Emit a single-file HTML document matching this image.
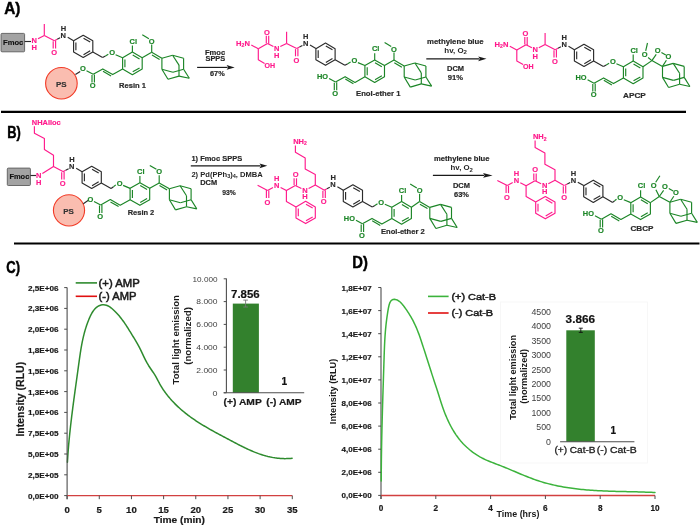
<!DOCTYPE html><html><head><meta charset="utf-8"><title>Figure</title><style>html,body{margin:0;padding:0;background:#fff;overflow:hidden}svg{display:block;will-change:transform}text{font-family:"Liberation Sans",sans-serif}</style></head><body>
<svg width="700" height="526" viewBox="0 0 700 526">
<rect width="700" height="526" fill="#fff"/>
<text x="4.2" y="13.7" font-size="16.8" fill="#000" font-weight="bold" textLength="16.2" lengthAdjust="spacingAndGlyphs" stroke="#000" stroke-width="0.45">A)</text>
<text x="7.3" y="137.7" font-size="16.8" fill="#000" font-weight="bold" textLength="13.6" lengthAdjust="spacingAndGlyphs" stroke="#000" stroke-width="0.45">B)</text>
<text x="6.2" y="272.7" font-size="16.8" fill="#000" font-weight="bold" textLength="13.8" lengthAdjust="spacingAndGlyphs" stroke="#000" stroke-width="0.45">C)</text>
<text x="352.3" y="267.6" font-size="16.8" fill="#000" font-weight="bold" textLength="15.6" lengthAdjust="spacingAndGlyphs" stroke="#000" stroke-width="0.45">D)</text>
<line x1="1" y1="111.9" x2="686" y2="111.9" stroke="#000" stroke-width="2.1"/>
<line x1="14" y1="243.5" x2="699.5" y2="243.5" stroke="#000" stroke-width="2.1"/>
<g transform="translate(-242.3,-7.8)"><line x1="286.6" y1="43.4" x2="286.6" y2="31.7" stroke="#ff1a8c" stroke-width="1.15"/><line x1="286.6" y1="43.4" x2="296.7" y2="48.5" stroke="#ff1a8c" stroke-width="1.15"/><line x1="286.6" y1="43.4" x2="280.3" y2="46.6" stroke="#ff1a8c" stroke-width="1.15"/><text x="276.6" y="50.9" font-size="7.5" fill="#ff1a8c" text-anchor="middle" font-weight="bold" stroke="#ff1a8c" stroke-width="0.15">N</text><text x="276.6" y="57.7" font-size="7.5" fill="#ff1a8c" text-anchor="middle" font-weight="bold" stroke="#ff1a8c" stroke-width="0.15">H</text><g transform="translate(0,0)"><line x1="295.5" y1="49.1" x2="295.5" y2="56.3" stroke="#ff1a8c" stroke-width="1.15"/><line x1="297.9" y1="48.6" x2="297.9" y2="56.3" stroke="#ff1a8c" stroke-width="1.15"/><text x="296.4" y="62.6" font-size="7.5" fill="#ff1a8c" text-anchor="middle" font-weight="bold" stroke="#ff1a8c" stroke-width="0.15">O</text><line x1="296.7" y1="48.5" x2="299.5" y2="47" stroke="#ff1a8c" stroke-width="1.15"/><line x1="299.5" y1="47" x2="302.4" y2="45.5" stroke="#2b2b2b" stroke-width="1.15"/><text x="305.6" y="45.5" font-size="7.5" fill="#2b2b2b" text-anchor="middle" font-weight="bold" stroke="#2b2b2b" stroke-width="0.15">N</text><text x="305.7" y="38.7" font-size="7.5" fill="#2b2b2b" text-anchor="middle" font-weight="bold" stroke="#2b2b2b" stroke-width="0.15">H</text><line x1="310" y1="45.1" x2="315.9" y2="48.5" stroke="#2b2b2b" stroke-width="1.15"/><polygon points="325.5,43.1 335.11,48.65 335.11,59.75 325.5,65.3 315.89,59.75 315.89,48.65" fill="none" stroke="#2b2b2b" stroke-width="1.15" stroke-linejoin="round"/><line x1="318.19" y1="50.35" x2="318.19" y2="58.05" stroke="#2b2b2b" stroke-width="1.15"/><line x1="325.82" y1="45.94" x2="332.49" y2="49.79" stroke="#2b2b2b" stroke-width="1.15"/><line x1="332.49" y1="58.61" x2="325.82" y2="62.46" stroke="#2b2b2b" stroke-width="1.15"/><line x1="335.11" y1="59.75" x2="344.9" y2="65.3" stroke="#2b2b2b" stroke-width="1.15"/></g><line x1="344.9" y1="65.3" x2="347.75" y2="63.7" stroke="#2b2b2b" stroke-width="1.15"/><line x1="347.75" y1="63.7" x2="350.6" y2="62.1" stroke="#1b8526" stroke-width="1.15"/><g transform="translate(0,0)"><text x="354.4" y="62.9" font-size="7.5" fill="#1b8526" text-anchor="middle" font-weight="bold" stroke="#1b8526" stroke-width="0.15">O</text><polygon points="374.7,59.9 384.49,65.55 384.49,76.85 374.7,82.5 364.91,76.85 364.91,65.55" fill="none" stroke="#1b8526" stroke-width="1.15" stroke-linejoin="round"/><line x1="367.21" y1="67.25" x2="367.21" y2="75.15" stroke="#1b8526" stroke-width="1.15"/><line x1="375.02" y1="62.74" x2="381.86" y2="66.69" stroke="#1b8526" stroke-width="1.15"/><line x1="381.86" y1="75.71" x2="375.02" y2="79.66" stroke="#1b8526" stroke-width="1.15"/><line x1="357.9" y1="62.6" x2="364.91" y2="65.55" stroke="#1b8526" stroke-width="1.15"/><line x1="374.7" y1="59.9" x2="374.7" y2="53.2" stroke="#1b8526" stroke-width="1.15"/><text x="371.9" y="51.4" font-size="7.5" fill="#1b8526" font-weight="bold" stroke="#1b8526" stroke-width="0.15">Cl</text><polyline points="364.91,76.85 355,82.4 345.1,76.7 335.5,82.1" fill="none" stroke="#1b8526" stroke-width="1.15" stroke-linejoin="round" /><line x1="345.3" y1="79.1" x2="353.4" y2="83.8" stroke="#1b8526" stroke-width="1.15"/><line x1="334.3" y1="82.7" x2="334.3" y2="90.3" stroke="#1b8526" stroke-width="1.15"/><line x1="336.7" y1="82.2" x2="336.7" y2="90.3" stroke="#1b8526" stroke-width="1.15"/><text x="335.1" y="96" font-size="7.5" fill="#1b8526" text-anchor="middle" font-weight="bold" stroke="#1b8526" stroke-width="0.15">O</text></g><line x1="384.49" y1="65.55" x2="394" y2="60.1" stroke="#1b8526" stroke-width="1.15"/><g transform="translate(0,0)"><line x1="394" y1="60.1" x2="394" y2="52.4" stroke="#1b8526" stroke-width="1.15"/><text x="394" y="51.5" font-size="7.5" fill="#1b8526" text-anchor="middle" font-weight="bold" stroke="#1b8526" stroke-width="0.15">O</text><line x1="391.2" y1="46.5" x2="384.6" y2="42.6" stroke="#1b8526" stroke-width="1.15"/><line x1="394" y1="60.1" x2="404.2" y2="66" stroke="#1b8526" stroke-width="1.15"/><line x1="394.3" y1="62.8" x2="401.9" y2="67.2" stroke="#1b8526" stroke-width="1.15"/><line x1="404.2" y1="66" x2="414.9" y2="63" stroke="#1b8526" stroke-width="1.15"/><line x1="414.9" y1="63" x2="425.9" y2="66" stroke="#1b8526" stroke-width="1.15"/><line x1="425.9" y1="66" x2="425.9" y2="77" stroke="#1b8526" stroke-width="1.15"/><line x1="425.9" y1="77" x2="415.2" y2="80" stroke="#1b8526" stroke-width="1.15"/><line x1="415.2" y1="80" x2="404.2" y2="77" stroke="#1b8526" stroke-width="1.15"/><line x1="404.2" y1="77" x2="404.2" y2="66" stroke="#1b8526" stroke-width="1.15"/><line x1="414.9" y1="63" x2="421.3" y2="72.9" stroke="#1b8526" stroke-width="1.15"/><line x1="421.3" y1="72.9" x2="421.3" y2="83.9" stroke="#1b8526" stroke-width="1.15"/><line x1="404.2" y1="77" x2="410.3" y2="87.1" stroke="#1b8526" stroke-width="1.15"/><line x1="410.3" y1="87.1" x2="421.3" y2="83.9" stroke="#1b8526" stroke-width="1.15"/><line x1="421.3" y1="83.9" x2="431.6" y2="86.1" stroke="#1b8526" stroke-width="1.15"/><line x1="431.6" y1="86.1" x2="425.9" y2="77" stroke="#1b8526" stroke-width="1.15"/></g></g>
<rect x="1" y="33.4" width="23.6" height="18.4" rx="1" fill="#a3a3a3" stroke="#5c5c5c" stroke-width="0.9"/><text x="3" y="45" font-size="7.3" fill="#111" font-weight="bold" textLength="20.3" lengthAdjust="spacingAndGlyphs" stroke="#111" stroke-width="0.15">Fmoc</text>
<line x1="24.6" y1="41.5" x2="31" y2="41.5" stroke="#2b2b2b" stroke-width="1.15"/>
<circle cx="61.4" cy="83.25" r="15.8" fill="#fabdb0" stroke="#f23a26" stroke-width="1.1"/><text x="61.3" y="87" font-size="8" fill="#333" text-anchor="middle" font-weight="bold" stroke="#333" stroke-width="0.15">PS</text>
<line x1="75.4" y1="74.6" x2="80.2" y2="71.4" stroke="#2b2b2b" stroke-width="1.15"/>
<g transform="translate(-242.3,-7.8)"><line x1="328.8" y1="78.6" x2="335.5" y2="82.1" stroke="#1b8526" stroke-width="1.15"/><text x="325.3" y="79.3" font-size="7.5" fill="#1b8526" text-anchor="middle" font-weight="bold" stroke="#1b8526" stroke-width="0.15">O</text></g>
<text x="119.1" y="87.6" font-size="7.9" fill="#2a2a2a" font-weight="bold" textLength="27" lengthAdjust="spacingAndGlyphs" stroke="#2a2a2a" stroke-width="0.2">Resin 1</text>
<line x1="197.1" y1="67.4" x2="227.6" y2="67.4" stroke="#1a1a1a" stroke-width="1.15"/><polygon points="226.6,65.1 234.7,67.4 226.6,69.7 228.2,67.4" fill="#1a1a1a"/>
<text x="205" y="54.7" font-size="6.6" fill="#262626" font-weight="bold" textLength="20.2" lengthAdjust="spacingAndGlyphs" stroke="#262626" stroke-width="0.15">Fmoc</text>
<text x="205.5" y="61.4" font-size="6.6" fill="#262626" font-weight="bold" textLength="19.7" lengthAdjust="spacingAndGlyphs" stroke="#262626" stroke-width="0.15">SPPS</text>
<text x="210" y="76.4" font-size="6.6" fill="#262626" font-weight="bold" textLength="14.7" lengthAdjust="spacingAndGlyphs" stroke="#262626" stroke-width="0.15">67%</text>
<line x1="273.4" y1="46.6" x2="267.5" y2="43.5" stroke="#ff1a8c" stroke-width="1.15"/><line x1="266.3" y1="43.2" x2="266.3" y2="35.7" stroke="#ff1a8c" stroke-width="1.15"/><line x1="268.7" y1="43.8" x2="268.7" y2="35.7" stroke="#ff1a8c" stroke-width="1.15"/><text x="266.9" y="34.6" font-size="7.5" fill="#ff1a8c" text-anchor="middle" font-weight="bold" stroke="#ff1a8c" stroke-width="0.15">O</text><line x1="267.5" y1="43.5" x2="258.3" y2="48.8" stroke="#ff1a8c" stroke-width="1.15"/><line x1="258.3" y1="48.8" x2="251.3" y2="45" stroke="#ff1a8c" stroke-width="1.15"/><text x="236.1" y="45.6" font-size="7.5" fill="#ff1a8c" font-weight="bold" textLength="13.8" lengthAdjust="spacingAndGlyphs" stroke="#ff1a8c" stroke-width="0.15">H<tspan font-size="5" dy="1.6">2</tspan><tspan dy="-1.6">N</tspan></text><polyline points="258.3,48.8 258.3,59.8 264.6,63.4" fill="none" stroke="#ff1a8c" stroke-width="1.15" stroke-linejoin="round" /><text x="264.4" y="67.6" font-size="7.5" fill="#ff1a8c" font-weight="bold" textLength="10.6" lengthAdjust="spacingAndGlyphs" stroke="#ff1a8c" stroke-width="0.15">OH</text>
<line x1="286.6" y1="43.4" x2="286.6" y2="31.7" stroke="#ff1a8c" stroke-width="1.15"/><line x1="286.6" y1="43.4" x2="296.7" y2="48.5" stroke="#ff1a8c" stroke-width="1.15"/><line x1="286.6" y1="43.4" x2="280.3" y2="46.6" stroke="#ff1a8c" stroke-width="1.15"/><text x="276.6" y="50.9" font-size="7.5" fill="#ff1a8c" text-anchor="middle" font-weight="bold" stroke="#ff1a8c" stroke-width="0.15">N</text><text x="276.6" y="57.7" font-size="7.5" fill="#ff1a8c" text-anchor="middle" font-weight="bold" stroke="#ff1a8c" stroke-width="0.15">H</text>
<g transform="translate(0,0)"><line x1="295.5" y1="49.1" x2="295.5" y2="56.3" stroke="#ff1a8c" stroke-width="1.15"/><line x1="297.9" y1="48.6" x2="297.9" y2="56.3" stroke="#ff1a8c" stroke-width="1.15"/><text x="296.4" y="62.6" font-size="7.5" fill="#ff1a8c" text-anchor="middle" font-weight="bold" stroke="#ff1a8c" stroke-width="0.15">O</text><line x1="296.7" y1="48.5" x2="299.5" y2="47" stroke="#ff1a8c" stroke-width="1.15"/><line x1="299.5" y1="47" x2="302.4" y2="45.5" stroke="#2b2b2b" stroke-width="1.15"/><text x="305.6" y="45.5" font-size="7.5" fill="#2b2b2b" text-anchor="middle" font-weight="bold" stroke="#2b2b2b" stroke-width="0.15">N</text><text x="305.7" y="38.7" font-size="7.5" fill="#2b2b2b" text-anchor="middle" font-weight="bold" stroke="#2b2b2b" stroke-width="0.15">H</text><line x1="310" y1="45.1" x2="315.9" y2="48.5" stroke="#2b2b2b" stroke-width="1.15"/><polygon points="325.5,43.1 335.11,48.65 335.11,59.75 325.5,65.3 315.89,59.75 315.89,48.65" fill="none" stroke="#2b2b2b" stroke-width="1.15" stroke-linejoin="round"/><line x1="318.19" y1="50.35" x2="318.19" y2="58.05" stroke="#2b2b2b" stroke-width="1.15"/><line x1="325.82" y1="45.94" x2="332.49" y2="49.79" stroke="#2b2b2b" stroke-width="1.15"/><line x1="332.49" y1="58.61" x2="325.82" y2="62.46" stroke="#2b2b2b" stroke-width="1.15"/><line x1="335.11" y1="59.75" x2="344.9" y2="65.3" stroke="#2b2b2b" stroke-width="1.15"/></g><line x1="344.9" y1="65.3" x2="347.75" y2="63.7" stroke="#2b2b2b" stroke-width="1.15"/><line x1="347.75" y1="63.7" x2="350.6" y2="62.1" stroke="#1b8526" stroke-width="1.15"/><g transform="translate(0,0)"><text x="354.4" y="62.9" font-size="7.5" fill="#1b8526" text-anchor="middle" font-weight="bold" stroke="#1b8526" stroke-width="0.15">O</text><polygon points="374.7,59.9 384.49,65.55 384.49,76.85 374.7,82.5 364.91,76.85 364.91,65.55" fill="none" stroke="#1b8526" stroke-width="1.15" stroke-linejoin="round"/><line x1="367.21" y1="67.25" x2="367.21" y2="75.15" stroke="#1b8526" stroke-width="1.15"/><line x1="375.02" y1="62.74" x2="381.86" y2="66.69" stroke="#1b8526" stroke-width="1.15"/><line x1="381.86" y1="75.71" x2="375.02" y2="79.66" stroke="#1b8526" stroke-width="1.15"/><line x1="357.9" y1="62.6" x2="364.91" y2="65.55" stroke="#1b8526" stroke-width="1.15"/><line x1="374.7" y1="59.9" x2="374.7" y2="53.2" stroke="#1b8526" stroke-width="1.15"/><text x="371.9" y="51.4" font-size="7.5" fill="#1b8526" font-weight="bold" stroke="#1b8526" stroke-width="0.15">Cl</text><polyline points="364.91,76.85 355,82.4 345.1,76.7 335.5,82.1" fill="none" stroke="#1b8526" stroke-width="1.15" stroke-linejoin="round" /><line x1="345.3" y1="79.1" x2="353.4" y2="83.8" stroke="#1b8526" stroke-width="1.15"/><line x1="334.3" y1="82.7" x2="334.3" y2="90.3" stroke="#1b8526" stroke-width="1.15"/><line x1="336.7" y1="82.2" x2="336.7" y2="90.3" stroke="#1b8526" stroke-width="1.15"/><text x="335.1" y="96" font-size="7.5" fill="#1b8526" text-anchor="middle" font-weight="bold" stroke="#1b8526" stroke-width="0.15">O</text></g><line x1="384.49" y1="65.55" x2="394" y2="60.1" stroke="#1b8526" stroke-width="1.15"/><g transform="translate(0,0)"><line x1="394" y1="60.1" x2="394" y2="52.4" stroke="#1b8526" stroke-width="1.15"/><text x="394" y="51.5" font-size="7.5" fill="#1b8526" text-anchor="middle" font-weight="bold" stroke="#1b8526" stroke-width="0.15">O</text><line x1="391.2" y1="46.5" x2="384.6" y2="42.6" stroke="#1b8526" stroke-width="1.15"/><line x1="394" y1="60.1" x2="404.2" y2="66" stroke="#1b8526" stroke-width="1.15"/><line x1="394.3" y1="62.8" x2="401.9" y2="67.2" stroke="#1b8526" stroke-width="1.15"/><line x1="404.2" y1="66" x2="414.9" y2="63" stroke="#1b8526" stroke-width="1.15"/><line x1="414.9" y1="63" x2="425.9" y2="66" stroke="#1b8526" stroke-width="1.15"/><line x1="425.9" y1="66" x2="425.9" y2="77" stroke="#1b8526" stroke-width="1.15"/><line x1="425.9" y1="77" x2="415.2" y2="80" stroke="#1b8526" stroke-width="1.15"/><line x1="415.2" y1="80" x2="404.2" y2="77" stroke="#1b8526" stroke-width="1.15"/><line x1="404.2" y1="77" x2="404.2" y2="66" stroke="#1b8526" stroke-width="1.15"/><line x1="414.9" y1="63" x2="421.3" y2="72.9" stroke="#1b8526" stroke-width="1.15"/><line x1="421.3" y1="72.9" x2="421.3" y2="83.9" stroke="#1b8526" stroke-width="1.15"/><line x1="404.2" y1="77" x2="410.3" y2="87.1" stroke="#1b8526" stroke-width="1.15"/><line x1="410.3" y1="87.1" x2="421.3" y2="83.9" stroke="#1b8526" stroke-width="1.15"/><line x1="421.3" y1="83.9" x2="431.6" y2="86.1" stroke="#1b8526" stroke-width="1.15"/><line x1="431.6" y1="86.1" x2="425.9" y2="77" stroke="#1b8526" stroke-width="1.15"/></g>
<line x1="329.1" y1="78.6" x2="335.5" y2="82.1" stroke="#1b8526" stroke-width="1.15"/>
<text x="316.9" y="78.9" font-size="7.5" fill="#1b8526" font-weight="bold" textLength="11.1" lengthAdjust="spacingAndGlyphs" stroke="#1b8526" stroke-width="0.15">HO</text>
<text x="356" y="95.5" font-size="7.9" fill="#2a2a2a" font-weight="bold" textLength="44.5" lengthAdjust="spacingAndGlyphs" stroke="#2a2a2a" stroke-width="0.2">Enol-ether 1</text>
<line x1="426.3" y1="58.8" x2="479.2" y2="58.8" stroke="#1a1a1a" stroke-width="1.15"/><polygon points="478.2,56.45 486.5,58.8 478.2,61.15 479.8,58.8" fill="#1a1a1a"/>
<text x="427.1" y="43.8" font-size="6.6" fill="#262626" font-weight="bold" textLength="56.5" lengthAdjust="spacingAndGlyphs" stroke="#262626" stroke-width="0.15">methylene blue</text>
<text x="444.3" y="52.8" font-size="6.6" fill="#262626" font-weight="bold" textLength="22.6" lengthAdjust="spacingAndGlyphs" >hv, O<tspan font-size="5" dy="1.5">2</tspan></text>
<text x="447" y="71.1" font-size="6.6" fill="#262626" font-weight="bold" textLength="17.1" lengthAdjust="spacingAndGlyphs" stroke="#262626" stroke-width="0.15">DCM</text>
<text x="447.7" y="79.7" font-size="6.6" fill="#262626" font-weight="bold" textLength="15.2" lengthAdjust="spacingAndGlyphs" stroke="#262626" stroke-width="0.15">91%</text>
<g transform="translate(258.5,1.2)"><line x1="273.4" y1="46.6" x2="267.5" y2="43.5" stroke="#ff1a8c" stroke-width="1.15"/><line x1="266.3" y1="43.2" x2="266.3" y2="35.7" stroke="#ff1a8c" stroke-width="1.15"/><line x1="268.7" y1="43.8" x2="268.7" y2="35.7" stroke="#ff1a8c" stroke-width="1.15"/><text x="266.9" y="34.6" font-size="7.5" fill="#ff1a8c" text-anchor="middle" font-weight="bold" stroke="#ff1a8c" stroke-width="0.15">O</text><line x1="267.5" y1="43.5" x2="258.3" y2="48.8" stroke="#ff1a8c" stroke-width="1.15"/><line x1="258.3" y1="48.8" x2="251.3" y2="45" stroke="#ff1a8c" stroke-width="1.15"/><text x="236.1" y="45.6" font-size="7.5" fill="#ff1a8c" font-weight="bold" textLength="13.8" lengthAdjust="spacingAndGlyphs" stroke="#ff1a8c" stroke-width="0.15">H<tspan font-size="5" dy="1.6">2</tspan><tspan dy="-1.6">N</tspan></text><polyline points="258.3,48.8 258.3,59.8 264.6,63.4" fill="none" stroke="#ff1a8c" stroke-width="1.15" stroke-linejoin="round" /><text x="264.4" y="67.6" font-size="7.5" fill="#ff1a8c" font-weight="bold" textLength="10.6" lengthAdjust="spacingAndGlyphs" stroke="#ff1a8c" stroke-width="0.15">OH</text><line x1="286.6" y1="43.4" x2="286.6" y2="31.7" stroke="#ff1a8c" stroke-width="1.15"/><line x1="286.6" y1="43.4" x2="296.7" y2="48.5" stroke="#ff1a8c" stroke-width="1.15"/><line x1="286.6" y1="43.4" x2="280.3" y2="46.6" stroke="#ff1a8c" stroke-width="1.15"/><text x="276.6" y="50.9" font-size="7.5" fill="#ff1a8c" text-anchor="middle" font-weight="bold" stroke="#ff1a8c" stroke-width="0.15">N</text><text x="276.6" y="57.7" font-size="7.5" fill="#ff1a8c" text-anchor="middle" font-weight="bold" stroke="#ff1a8c" stroke-width="0.15">H</text><g transform="translate(0,0)"><line x1="295.5" y1="49.1" x2="295.5" y2="56.3" stroke="#ff1a8c" stroke-width="1.15"/><line x1="297.9" y1="48.6" x2="297.9" y2="56.3" stroke="#ff1a8c" stroke-width="1.15"/><text x="296.4" y="62.6" font-size="7.5" fill="#ff1a8c" text-anchor="middle" font-weight="bold" stroke="#ff1a8c" stroke-width="0.15">O</text><line x1="296.7" y1="48.5" x2="299.5" y2="47" stroke="#ff1a8c" stroke-width="1.15"/><line x1="299.5" y1="47" x2="302.4" y2="45.5" stroke="#2b2b2b" stroke-width="1.15"/><text x="305.6" y="45.5" font-size="7.5" fill="#2b2b2b" text-anchor="middle" font-weight="bold" stroke="#2b2b2b" stroke-width="0.15">N</text><text x="305.7" y="38.7" font-size="7.5" fill="#2b2b2b" text-anchor="middle" font-weight="bold" stroke="#2b2b2b" stroke-width="0.15">H</text><line x1="310" y1="45.1" x2="315.9" y2="48.5" stroke="#2b2b2b" stroke-width="1.15"/><polygon points="325.5,43.1 335.11,48.65 335.11,59.75 325.5,65.3 315.89,59.75 315.89,48.65" fill="none" stroke="#2b2b2b" stroke-width="1.15" stroke-linejoin="round"/><line x1="318.19" y1="50.35" x2="318.19" y2="58.05" stroke="#2b2b2b" stroke-width="1.15"/><line x1="325.82" y1="45.94" x2="332.49" y2="49.79" stroke="#2b2b2b" stroke-width="1.15"/><line x1="332.49" y1="58.61" x2="325.82" y2="62.46" stroke="#2b2b2b" stroke-width="1.15"/><line x1="335.11" y1="59.75" x2="344.9" y2="65.3" stroke="#2b2b2b" stroke-width="1.15"/></g><line x1="344.9" y1="65.3" x2="347.75" y2="63.7" stroke="#2b2b2b" stroke-width="1.15"/><line x1="347.75" y1="63.7" x2="350.6" y2="62.1" stroke="#1b8526" stroke-width="1.15"/><g transform="translate(0,0)"><text x="354.4" y="62.9" font-size="7.5" fill="#1b8526" text-anchor="middle" font-weight="bold" stroke="#1b8526" stroke-width="0.15">O</text><polygon points="374.7,59.9 384.49,65.55 384.49,76.85 374.7,82.5 364.91,76.85 364.91,65.55" fill="none" stroke="#1b8526" stroke-width="1.15" stroke-linejoin="round"/><line x1="367.21" y1="67.25" x2="367.21" y2="75.15" stroke="#1b8526" stroke-width="1.15"/><line x1="375.02" y1="62.74" x2="381.86" y2="66.69" stroke="#1b8526" stroke-width="1.15"/><line x1="381.86" y1="75.71" x2="375.02" y2="79.66" stroke="#1b8526" stroke-width="1.15"/><line x1="357.9" y1="62.6" x2="364.91" y2="65.55" stroke="#1b8526" stroke-width="1.15"/><line x1="374.7" y1="59.9" x2="374.7" y2="53.2" stroke="#1b8526" stroke-width="1.15"/><text x="371.9" y="51.4" font-size="7.5" fill="#1b8526" font-weight="bold" stroke="#1b8526" stroke-width="0.15">Cl</text><polyline points="364.91,76.85 355,82.4 345.1,76.7 335.5,82.1" fill="none" stroke="#1b8526" stroke-width="1.15" stroke-linejoin="round" /><line x1="345.3" y1="79.1" x2="353.4" y2="83.8" stroke="#1b8526" stroke-width="1.15"/><line x1="334.3" y1="82.7" x2="334.3" y2="90.3" stroke="#1b8526" stroke-width="1.15"/><line x1="336.7" y1="82.2" x2="336.7" y2="90.3" stroke="#1b8526" stroke-width="1.15"/><text x="335.1" y="96" font-size="7.5" fill="#1b8526" text-anchor="middle" font-weight="bold" stroke="#1b8526" stroke-width="0.15">O</text></g><line x1="384.49" y1="65.55" x2="393.4" y2="59.4" stroke="#1b8526" stroke-width="1.15"/><g transform="translate(0,0)"><line x1="393.4" y1="59.4" x2="404" y2="65.2" stroke="#1b8526" stroke-width="1.15"/><line x1="393.4" y1="59.4" x2="397.7" y2="53.2" stroke="#1b8526" stroke-width="1.15"/><text x="399.1" y="52.1" font-size="7.5" fill="#1b8526" text-anchor="middle" font-weight="bold" stroke="#1b8526" stroke-width="0.15">O</text><line x1="402.9" y1="51.4" x2="407.3" y2="53.8" stroke="#1b8526" stroke-width="1.15"/><text x="410" y="57.9" font-size="7.5" fill="#1b8526" text-anchor="middle" font-weight="bold" stroke="#1b8526" stroke-width="0.15">O</text><line x1="404" y1="65.2" x2="407.9" y2="59.1" stroke="#1b8526" stroke-width="1.15"/><line x1="393.4" y1="59.4" x2="389.6" y2="56.3" stroke="#1b8526" stroke-width="1.15"/><text x="386.1" y="55.6" font-size="7.5" fill="#1b8526" text-anchor="middle" font-weight="bold" stroke="#1b8526" stroke-width="0.15">O</text><line x1="387.2" y1="49.6" x2="389" y2="41.8" stroke="#1b8526" stroke-width="1.15"/><line x1="404" y1="65.2" x2="414.7" y2="62.2" stroke="#1b8526" stroke-width="1.15"/><line x1="414.7" y1="62.2" x2="425.7" y2="65.2" stroke="#1b8526" stroke-width="1.15"/><line x1="425.7" y1="65.2" x2="425.7" y2="76.2" stroke="#1b8526" stroke-width="1.15"/><line x1="425.7" y1="76.2" x2="415" y2="79.2" stroke="#1b8526" stroke-width="1.15"/><line x1="415" y1="79.2" x2="404" y2="76.2" stroke="#1b8526" stroke-width="1.15"/><line x1="404" y1="76.2" x2="404" y2="65.2" stroke="#1b8526" stroke-width="1.15"/><line x1="414.7" y1="62.2" x2="421.1" y2="72.1" stroke="#1b8526" stroke-width="1.15"/><line x1="421.1" y1="72.1" x2="421.1" y2="83.1" stroke="#1b8526" stroke-width="1.15"/><line x1="404" y1="76.2" x2="410.1" y2="86.3" stroke="#1b8526" stroke-width="1.15"/><line x1="410.1" y1="86.3" x2="421.1" y2="83.1" stroke="#1b8526" stroke-width="1.15"/><line x1="421.1" y1="83.1" x2="431.4" y2="85.3" stroke="#1b8526" stroke-width="1.15"/><line x1="431.4" y1="85.3" x2="425.7" y2="76.2" stroke="#1b8526" stroke-width="1.15"/></g><line x1="329.1" y1="78.6" x2="335.5" y2="82.1" stroke="#1b8526" stroke-width="1.15"/><text x="316.9" y="78.9" font-size="7.5" fill="#1b8526" font-weight="bold" textLength="11.1" lengthAdjust="spacingAndGlyphs" stroke="#1b8526" stroke-width="0.15">HO</text></g>
<text x="623" y="97.5" font-size="7.9" fill="#2a2a2a" font-weight="bold" textLength="22.8" lengthAdjust="spacingAndGlyphs" stroke="#2a2a2a" stroke-width="0.2">APCP</text>
<g transform="translate(-233.8,123.2)"><g transform="translate(0,0)"><line x1="295.5" y1="49.1" x2="295.5" y2="56.3" stroke="#ff1a8c" stroke-width="1.15"/><line x1="297.9" y1="48.6" x2="297.9" y2="56.3" stroke="#ff1a8c" stroke-width="1.15"/><text x="296.4" y="62.6" font-size="7.5" fill="#ff1a8c" text-anchor="middle" font-weight="bold" stroke="#ff1a8c" stroke-width="0.15">O</text><line x1="296.7" y1="48.5" x2="299.5" y2="47" stroke="#ff1a8c" stroke-width="1.15"/><line x1="299.5" y1="47" x2="302.4" y2="45.5" stroke="#2b2b2b" stroke-width="1.15"/><text x="305.6" y="45.5" font-size="7.5" fill="#2b2b2b" text-anchor="middle" font-weight="bold" stroke="#2b2b2b" stroke-width="0.15">N</text><text x="305.7" y="38.7" font-size="7.5" fill="#2b2b2b" text-anchor="middle" font-weight="bold" stroke="#2b2b2b" stroke-width="0.15">H</text><line x1="310" y1="45.1" x2="315.9" y2="48.5" stroke="#2b2b2b" stroke-width="1.15"/><polygon points="325.5,43.1 335.11,48.65 335.11,59.75 325.5,65.3 315.89,59.75 315.89,48.65" fill="none" stroke="#2b2b2b" stroke-width="1.15" stroke-linejoin="round"/><line x1="318.19" y1="50.35" x2="318.19" y2="58.05" stroke="#2b2b2b" stroke-width="1.15"/><line x1="325.82" y1="45.94" x2="332.49" y2="49.79" stroke="#2b2b2b" stroke-width="1.15"/><line x1="332.49" y1="58.61" x2="325.82" y2="62.46" stroke="#2b2b2b" stroke-width="1.15"/><line x1="335.11" y1="59.75" x2="344.9" y2="65.3" stroke="#2b2b2b" stroke-width="1.15"/></g><line x1="344.9" y1="65.3" x2="347.25" y2="63.5" stroke="#2b2b2b" stroke-width="1.15"/><line x1="347.25" y1="63.5" x2="349.6" y2="61.7" stroke="#1b8526" stroke-width="1.15"/><g transform="translate(-1,-0.4)"><text x="354.4" y="62.9" font-size="7.5" fill="#1b8526" text-anchor="middle" font-weight="bold" stroke="#1b8526" stroke-width="0.15">O</text><polygon points="374.7,59.9 384.49,65.55 384.49,76.85 374.7,82.5 364.91,76.85 364.91,65.55" fill="none" stroke="#1b8526" stroke-width="1.15" stroke-linejoin="round"/><line x1="367.21" y1="67.25" x2="367.21" y2="75.15" stroke="#1b8526" stroke-width="1.15"/><line x1="375.02" y1="62.74" x2="381.86" y2="66.69" stroke="#1b8526" stroke-width="1.15"/><line x1="381.86" y1="75.71" x2="375.02" y2="79.66" stroke="#1b8526" stroke-width="1.15"/><line x1="357.9" y1="62.6" x2="364.91" y2="65.55" stroke="#1b8526" stroke-width="1.15"/><line x1="374.7" y1="59.9" x2="374.7" y2="53.2" stroke="#1b8526" stroke-width="1.15"/><text x="371.9" y="51.4" font-size="7.5" fill="#1b8526" font-weight="bold" stroke="#1b8526" stroke-width="0.15">Cl</text><polyline points="364.91,76.85 355,82.4 345.1,76.7 335.5,82.1" fill="none" stroke="#1b8526" stroke-width="1.15" stroke-linejoin="round" /><line x1="345.3" y1="79.1" x2="353.4" y2="83.8" stroke="#1b8526" stroke-width="1.15"/><line x1="334.3" y1="82.7" x2="334.3" y2="90.3" stroke="#1b8526" stroke-width="1.15"/><line x1="336.7" y1="82.2" x2="336.7" y2="90.3" stroke="#1b8526" stroke-width="1.15"/><text x="335.1" y="96" font-size="7.5" fill="#1b8526" text-anchor="middle" font-weight="bold" stroke="#1b8526" stroke-width="0.15">O</text></g><line x1="383.49" y1="65.15" x2="393" y2="59.7" stroke="#1b8526" stroke-width="1.15"/><g transform="translate(-1,-0.4)"><line x1="394" y1="60.1" x2="394" y2="52.4" stroke="#1b8526" stroke-width="1.15"/><text x="394" y="51.5" font-size="7.5" fill="#1b8526" text-anchor="middle" font-weight="bold" stroke="#1b8526" stroke-width="0.15">O</text><line x1="391.2" y1="46.5" x2="384.6" y2="42.6" stroke="#1b8526" stroke-width="1.15"/><line x1="394" y1="60.1" x2="404.2" y2="66" stroke="#1b8526" stroke-width="1.15"/><line x1="394.3" y1="62.8" x2="401.9" y2="67.2" stroke="#1b8526" stroke-width="1.15"/><line x1="404.2" y1="66" x2="414.9" y2="63" stroke="#1b8526" stroke-width="1.15"/><line x1="414.9" y1="63" x2="425.9" y2="66" stroke="#1b8526" stroke-width="1.15"/><line x1="425.9" y1="66" x2="425.9" y2="77" stroke="#1b8526" stroke-width="1.15"/><line x1="425.9" y1="77" x2="415.2" y2="80" stroke="#1b8526" stroke-width="1.15"/><line x1="415.2" y1="80" x2="404.2" y2="77" stroke="#1b8526" stroke-width="1.15"/><line x1="404.2" y1="77" x2="404.2" y2="66" stroke="#1b8526" stroke-width="1.15"/><line x1="414.9" y1="63" x2="421.3" y2="72.9" stroke="#1b8526" stroke-width="1.15"/><line x1="421.3" y1="72.9" x2="421.3" y2="83.9" stroke="#1b8526" stroke-width="1.15"/><line x1="404.2" y1="77" x2="410.3" y2="87.1" stroke="#1b8526" stroke-width="1.15"/><line x1="410.3" y1="87.1" x2="421.3" y2="83.9" stroke="#1b8526" stroke-width="1.15"/><line x1="421.3" y1="83.9" x2="431.6" y2="86.1" stroke="#1b8526" stroke-width="1.15"/><line x1="431.6" y1="86.1" x2="425.9" y2="77" stroke="#1b8526" stroke-width="1.15"/></g></g>
<polyline points="34.4,126.2 34.4,133.2 44.4,138.6 44.4,149.6 53.5,155.2 53.5,166.4 62.9,171.6" fill="none" stroke="#ff1a8c" stroke-width="1.15" stroke-linejoin="round" />
<text x="31.8" y="124.8" font-size="6.9" fill="#ff1a8c" font-weight="bold" textLength="28.9" lengthAdjust="spacingAndGlyphs" stroke="#ff1a8c" stroke-width="0.15">NHAlloc</text>
<line x1="53.5" y1="166.4" x2="42.4" y2="173.4" stroke="#ff1a8c" stroke-width="1.15"/>
<text x="38.6" y="177.9" font-size="7.5" fill="#ff1a8c" text-anchor="middle" font-weight="bold" stroke="#ff1a8c" stroke-width="0.15">N</text><text x="38.6" y="184.7" font-size="7.5" fill="#ff1a8c" text-anchor="middle" font-weight="bold" stroke="#ff1a8c" stroke-width="0.15">H</text>
<rect x="7.3" y="168.1" width="23.1" height="17.4" rx="1" fill="#a3a3a3" stroke="#5c5c5c" stroke-width="0.9"/><text x="9.4" y="179.3" font-size="7.3" fill="#111" font-weight="bold" textLength="19.9" lengthAdjust="spacingAndGlyphs" stroke="#111" stroke-width="0.15">Fmoc</text>
<line x1="30.4" y1="175.5" x2="36" y2="175.5" stroke="#2b2b2b" stroke-width="1.15"/>
<circle cx="69" cy="210.35" r="15.6" fill="#fabdb0" stroke="#f23a26" stroke-width="1.1"/><text x="68.5" y="214" font-size="8" fill="#333" text-anchor="middle" font-weight="bold" stroke="#333" stroke-width="0.15">PS</text>
<line x1="83.3" y1="203.8" x2="88.4" y2="200.3" stroke="#2b2b2b" stroke-width="1.15"/>
<g transform="translate(-234.8,122.8)"><line x1="328.8" y1="78.6" x2="335.5" y2="82.1" stroke="#1b8526" stroke-width="1.15"/><text x="325.3" y="79.3" font-size="7.5" fill="#1b8526" text-anchor="middle" font-weight="bold" stroke="#1b8526" stroke-width="0.15">O</text></g>
<text x="127.7" y="215.1" font-size="7.9" fill="#2a2a2a" font-weight="bold" textLength="26.6" lengthAdjust="spacingAndGlyphs" stroke="#2a2a2a" stroke-width="0.2">Resin 2</text>
<line x1="190.8" y1="165.8" x2="260.5" y2="165.8" stroke="#1a1a1a" stroke-width="1.15"/><polygon points="259.5,163.4 267.3,165.8 259.5,168.2 261.1,165.8" fill="#1a1a1a"/>
<text x="191.4" y="160.9" font-size="6.6" fill="#262626" font-weight="bold" textLength="50.8" lengthAdjust="spacingAndGlyphs" stroke="#262626" stroke-width="0.15">1) Fmoc SPPS</text>
<text x="191.4" y="177" font-size="6.6" fill="#262626" font-weight="bold" textLength="71.4" lengthAdjust="spacingAndGlyphs" >2) Pd(PPh<tspan font-size="4.8" dy="1.4">3</tspan><tspan dy="-1.4">)</tspan><tspan font-size="4.8" dy="1.4">4</tspan><tspan dy="-1.4">, DMBA</tspan></text>
<text x="200.2" y="185.3" font-size="6.6" fill="#262626" font-weight="bold" textLength="16.9" lengthAdjust="spacingAndGlyphs" stroke="#262626" stroke-width="0.15">DCM</text>
<text x="222.3" y="195" font-size="6.6" fill="#262626" font-weight="bold" textLength="13.5" lengthAdjust="spacingAndGlyphs" stroke="#262626" stroke-width="0.15">93%</text>
<text x="293.2" y="143.8" font-size="7.5" fill="#ff1a8c" font-weight="bold" textLength="13.6" lengthAdjust="spacingAndGlyphs" stroke="#ff1a8c" stroke-width="0.15">NH<tspan font-size="5" dy="1.6">2</tspan></text><polyline points="295.4,145.4 295.4,152.2 305.2,157.9 305.2,169 315.3,174.5 315.3,185 324.4,190.2" fill="none" stroke="#ff1a8c" stroke-width="1.15" stroke-linejoin="round" /><line x1="315.3" y1="185" x2="308.6" y2="188.6" stroke="#ff1a8c" stroke-width="1.15"/><text x="305" y="193" font-size="7.5" fill="#ff1a8c" text-anchor="middle" font-weight="bold" stroke="#ff1a8c" stroke-width="0.15">N</text><text x="305" y="199.3" font-size="7.5" fill="#ff1a8c" text-anchor="middle" font-weight="bold" stroke="#ff1a8c" stroke-width="0.15">H</text><line x1="301.4" y1="188.6" x2="295.3" y2="185.5" stroke="#ff1a8c" stroke-width="1.15"/><line x1="294.1" y1="185.1" x2="294.1" y2="178.3" stroke="#ff1a8c" stroke-width="1.15"/><line x1="296.5" y1="185.7" x2="296.5" y2="178.3" stroke="#ff1a8c" stroke-width="1.15"/><text x="295.6" y="176.8" font-size="7.5" fill="#ff1a8c" text-anchor="middle" font-weight="bold" stroke="#ff1a8c" stroke-width="0.15">O</text><polyline points="295.3,185.5 286.4,190.6 286.4,201.4 296,206.9" fill="none" stroke="#ff1a8c" stroke-width="1.15" stroke-linejoin="round" /><polygon points="305.65,201.3 315.31,206.88 315.31,218.02 305.65,223.6 295.99,218.02 295.99,206.88" fill="none" stroke="#ff1a8c" stroke-width="1.15" stroke-linejoin="round"/><line x1="298.29" y1="208.57" x2="298.29" y2="216.32" stroke="#ff1a8c" stroke-width="1.15"/><line x1="305.97" y1="204.14" x2="312.68" y2="208.02" stroke="#ff1a8c" stroke-width="1.15"/><line x1="312.68" y1="216.88" x2="305.97" y2="220.76" stroke="#ff1a8c" stroke-width="1.15"/><line x1="286.4" y1="190.6" x2="280.6" y2="187.5" stroke="#ff1a8c" stroke-width="1.15"/><text x="276.8" y="187.8" font-size="7.5" fill="#ff1a8c" text-anchor="middle" font-weight="bold" stroke="#ff1a8c" stroke-width="0.15">N</text><text x="276.8" y="181" font-size="7.5" fill="#ff1a8c" text-anchor="middle" font-weight="bold" stroke="#ff1a8c" stroke-width="0.15">H</text><line x1="273" y1="187.4" x2="267.6" y2="190.4" stroke="#ff1a8c" stroke-width="1.15"/><line x1="267.6" y1="190.4" x2="257.6" y2="185.2" stroke="#ff1a8c" stroke-width="1.15"/><line x1="266.4" y1="190" x2="266.4" y2="197.9" stroke="#ff1a8c" stroke-width="1.15"/><line x1="268.8" y1="190.6" x2="268.8" y2="197.9" stroke="#ff1a8c" stroke-width="1.15"/><text x="267.3" y="204.5" font-size="7.5" fill="#ff1a8c" text-anchor="middle" font-weight="bold" stroke="#ff1a8c" stroke-width="0.15">O</text>
<g transform="translate(27.4,141.7)"><g transform="translate(0,0)"><line x1="295.5" y1="49.1" x2="295.5" y2="56.3" stroke="#ff1a8c" stroke-width="1.15"/><line x1="297.9" y1="48.6" x2="297.9" y2="56.3" stroke="#ff1a8c" stroke-width="1.15"/><text x="296.4" y="62.6" font-size="7.5" fill="#ff1a8c" text-anchor="middle" font-weight="bold" stroke="#ff1a8c" stroke-width="0.15">O</text><line x1="296.7" y1="48.5" x2="299.5" y2="47" stroke="#ff1a8c" stroke-width="1.15"/><line x1="299.5" y1="47" x2="302.4" y2="45.5" stroke="#2b2b2b" stroke-width="1.15"/><text x="305.6" y="45.5" font-size="7.5" fill="#2b2b2b" text-anchor="middle" font-weight="bold" stroke="#2b2b2b" stroke-width="0.15">N</text><text x="305.7" y="38.7" font-size="7.5" fill="#2b2b2b" text-anchor="middle" font-weight="bold" stroke="#2b2b2b" stroke-width="0.15">H</text><line x1="310" y1="45.1" x2="315.9" y2="48.5" stroke="#2b2b2b" stroke-width="1.15"/><polygon points="325.5,43.1 335.11,48.65 335.11,59.75 325.5,65.3 315.89,59.75 315.89,48.65" fill="none" stroke="#2b2b2b" stroke-width="1.15" stroke-linejoin="round"/><line x1="318.19" y1="50.35" x2="318.19" y2="58.05" stroke="#2b2b2b" stroke-width="1.15"/><line x1="325.82" y1="45.94" x2="332.49" y2="49.79" stroke="#2b2b2b" stroke-width="1.15"/><line x1="332.49" y1="58.61" x2="325.82" y2="62.46" stroke="#2b2b2b" stroke-width="1.15"/><line x1="335.11" y1="59.75" x2="344.9" y2="65.3" stroke="#2b2b2b" stroke-width="1.15"/></g><line x1="344.9" y1="65.3" x2="347.5" y2="63.7" stroke="#2b2b2b" stroke-width="1.15"/><line x1="347.5" y1="63.7" x2="350.1" y2="62.1" stroke="#1b8526" stroke-width="1.15"/><g transform="translate(-0.5,0)"><text x="354.4" y="62.9" font-size="7.5" fill="#1b8526" text-anchor="middle" font-weight="bold" stroke="#1b8526" stroke-width="0.15">O</text><polygon points="374.7,59.9 384.49,65.55 384.49,76.85 374.7,82.5 364.91,76.85 364.91,65.55" fill="none" stroke="#1b8526" stroke-width="1.15" stroke-linejoin="round"/><line x1="367.21" y1="67.25" x2="367.21" y2="75.15" stroke="#1b8526" stroke-width="1.15"/><line x1="375.02" y1="62.74" x2="381.86" y2="66.69" stroke="#1b8526" stroke-width="1.15"/><line x1="381.86" y1="75.71" x2="375.02" y2="79.66" stroke="#1b8526" stroke-width="1.15"/><line x1="357.9" y1="62.6" x2="364.91" y2="65.55" stroke="#1b8526" stroke-width="1.15"/><line x1="374.7" y1="59.9" x2="374.7" y2="53.2" stroke="#1b8526" stroke-width="1.15"/><text x="371.9" y="51.4" font-size="7.5" fill="#1b8526" font-weight="bold" stroke="#1b8526" stroke-width="0.15">Cl</text><polyline points="364.91,76.85 355,82.4 345.1,76.7 335.5,82.1" fill="none" stroke="#1b8526" stroke-width="1.15" stroke-linejoin="round" /><line x1="345.3" y1="79.1" x2="353.4" y2="83.8" stroke="#1b8526" stroke-width="1.15"/><line x1="334.3" y1="82.7" x2="334.3" y2="90.3" stroke="#1b8526" stroke-width="1.15"/><line x1="336.7" y1="82.2" x2="336.7" y2="90.3" stroke="#1b8526" stroke-width="1.15"/><text x="335.1" y="96" font-size="7.5" fill="#1b8526" text-anchor="middle" font-weight="bold" stroke="#1b8526" stroke-width="0.15">O</text></g><line x1="383.99" y1="65.55" x2="392.2" y2="59.8" stroke="#1b8526" stroke-width="1.15"/><g transform="translate(-1.8,-0.3)"><line x1="394" y1="60.1" x2="394" y2="52.4" stroke="#1b8526" stroke-width="1.15"/><text x="394" y="51.5" font-size="7.5" fill="#1b8526" text-anchor="middle" font-weight="bold" stroke="#1b8526" stroke-width="0.15">O</text><line x1="391.2" y1="46.5" x2="384.6" y2="42.6" stroke="#1b8526" stroke-width="1.15"/><line x1="394" y1="60.1" x2="404.2" y2="66" stroke="#1b8526" stroke-width="1.15"/><line x1="394.3" y1="62.8" x2="401.9" y2="67.2" stroke="#1b8526" stroke-width="1.15"/><line x1="404.2" y1="66" x2="414.9" y2="63" stroke="#1b8526" stroke-width="1.15"/><line x1="414.9" y1="63" x2="425.9" y2="66" stroke="#1b8526" stroke-width="1.15"/><line x1="425.9" y1="66" x2="425.9" y2="77" stroke="#1b8526" stroke-width="1.15"/><line x1="425.9" y1="77" x2="415.2" y2="80" stroke="#1b8526" stroke-width="1.15"/><line x1="415.2" y1="80" x2="404.2" y2="77" stroke="#1b8526" stroke-width="1.15"/><line x1="404.2" y1="77" x2="404.2" y2="66" stroke="#1b8526" stroke-width="1.15"/><line x1="414.9" y1="63" x2="421.3" y2="72.9" stroke="#1b8526" stroke-width="1.15"/><line x1="421.3" y1="72.9" x2="421.3" y2="83.9" stroke="#1b8526" stroke-width="1.15"/><line x1="404.2" y1="77" x2="410.3" y2="87.1" stroke="#1b8526" stroke-width="1.15"/><line x1="410.3" y1="87.1" x2="421.3" y2="83.9" stroke="#1b8526" stroke-width="1.15"/><line x1="421.3" y1="83.9" x2="431.6" y2="86.1" stroke="#1b8526" stroke-width="1.15"/><line x1="431.6" y1="86.1" x2="425.9" y2="77" stroke="#1b8526" stroke-width="1.15"/></g><g transform="translate(-0.5,0)"><line x1="329.1" y1="78.6" x2="335.5" y2="82.1" stroke="#1b8526" stroke-width="1.15"/><text x="316.9" y="78.9" font-size="7.5" fill="#1b8526" font-weight="bold" textLength="11.1" lengthAdjust="spacingAndGlyphs" stroke="#1b8526" stroke-width="0.15">HO</text></g></g>
<text x="381" y="233.7" font-size="7.9" fill="#2a2a2a" font-weight="bold" textLength="43.7" lengthAdjust="spacingAndGlyphs" stroke="#2a2a2a" stroke-width="0.2">Enol-ether 2</text>
<line x1="432.9" y1="175.4" x2="484.1" y2="175.4" stroke="#1a1a1a" stroke-width="1.15"/><polygon points="483.1,173 492.6,175.4 483.1,177.8 484.7,175.4" fill="#1a1a1a"/>
<text x="434" y="161.1" font-size="6.6" fill="#262626" font-weight="bold" textLength="55.4" lengthAdjust="spacingAndGlyphs" stroke="#262626" stroke-width="0.15">methylene blue</text>
<text x="450.6" y="170" font-size="6.6" fill="#262626" font-weight="bold" textLength="22.3" lengthAdjust="spacingAndGlyphs" >hv, O<tspan font-size="5" dy="1.5">2</tspan></text>
<text x="452.9" y="187.7" font-size="6.6" fill="#262626" font-weight="bold" textLength="17.1" lengthAdjust="spacingAndGlyphs" stroke="#262626" stroke-width="0.15">DCM</text>
<text x="454" y="196.9" font-size="6.6" fill="#262626" font-weight="bold" textLength="14.9" lengthAdjust="spacingAndGlyphs" stroke="#262626" stroke-width="0.15">63%</text>
<g transform="translate(239.7,-4.8)"><text x="293.2" y="143.8" font-size="7.5" fill="#ff1a8c" font-weight="bold" textLength="13.6" lengthAdjust="spacingAndGlyphs" stroke="#ff1a8c" stroke-width="0.15">NH<tspan font-size="5" dy="1.6">2</tspan></text><polyline points="295.4,145.4 295.4,152.2 305.2,157.9 305.2,169 315.3,174.5 315.3,185 324.4,190.2" fill="none" stroke="#ff1a8c" stroke-width="1.15" stroke-linejoin="round" /><line x1="315.3" y1="185" x2="308.6" y2="188.6" stroke="#ff1a8c" stroke-width="1.15"/><text x="305" y="193" font-size="7.5" fill="#ff1a8c" text-anchor="middle" font-weight="bold" stroke="#ff1a8c" stroke-width="0.15">N</text><text x="305" y="199.3" font-size="7.5" fill="#ff1a8c" text-anchor="middle" font-weight="bold" stroke="#ff1a8c" stroke-width="0.15">H</text><line x1="301.4" y1="188.6" x2="295.3" y2="185.5" stroke="#ff1a8c" stroke-width="1.15"/><line x1="294.1" y1="185.1" x2="294.1" y2="178.3" stroke="#ff1a8c" stroke-width="1.15"/><line x1="296.5" y1="185.7" x2="296.5" y2="178.3" stroke="#ff1a8c" stroke-width="1.15"/><text x="295.6" y="176.8" font-size="7.5" fill="#ff1a8c" text-anchor="middle" font-weight="bold" stroke="#ff1a8c" stroke-width="0.15">O</text><polyline points="295.3,185.5 286.4,190.6 286.4,201.4 296,206.9" fill="none" stroke="#ff1a8c" stroke-width="1.15" stroke-linejoin="round" /><polygon points="305.65,201.3 315.31,206.88 315.31,218.02 305.65,223.6 295.99,218.02 295.99,206.88" fill="none" stroke="#ff1a8c" stroke-width="1.15" stroke-linejoin="round"/><line x1="298.29" y1="208.57" x2="298.29" y2="216.32" stroke="#ff1a8c" stroke-width="1.15"/><line x1="305.97" y1="204.14" x2="312.68" y2="208.02" stroke="#ff1a8c" stroke-width="1.15"/><line x1="312.68" y1="216.88" x2="305.97" y2="220.76" stroke="#ff1a8c" stroke-width="1.15"/><line x1="286.4" y1="190.6" x2="280.6" y2="187.5" stroke="#ff1a8c" stroke-width="1.15"/><text x="276.8" y="187.8" font-size="7.5" fill="#ff1a8c" text-anchor="middle" font-weight="bold" stroke="#ff1a8c" stroke-width="0.15">N</text><text x="276.8" y="181" font-size="7.5" fill="#ff1a8c" text-anchor="middle" font-weight="bold" stroke="#ff1a8c" stroke-width="0.15">H</text><line x1="273" y1="187.4" x2="267.6" y2="190.4" stroke="#ff1a8c" stroke-width="1.15"/><line x1="267.6" y1="190.4" x2="257.6" y2="185.2" stroke="#ff1a8c" stroke-width="1.15"/><line x1="266.4" y1="190" x2="266.4" y2="197.9" stroke="#ff1a8c" stroke-width="1.15"/><line x1="268.8" y1="190.6" x2="268.8" y2="197.9" stroke="#ff1a8c" stroke-width="1.15"/><text x="267.3" y="204.5" font-size="7.5" fill="#ff1a8c" text-anchor="middle" font-weight="bold" stroke="#ff1a8c" stroke-width="0.15">O</text></g>
<g transform="translate(266.9,137.1)"><g transform="translate(0.9,0)"><line x1="295.5" y1="49.1" x2="295.5" y2="56.3" stroke="#ff1a8c" stroke-width="1.15"/><line x1="297.9" y1="48.6" x2="297.9" y2="56.3" stroke="#ff1a8c" stroke-width="1.15"/><text x="296.4" y="62.6" font-size="7.5" fill="#ff1a8c" text-anchor="middle" font-weight="bold" stroke="#ff1a8c" stroke-width="0.15">O</text><line x1="296.7" y1="48.5" x2="299.5" y2="47" stroke="#ff1a8c" stroke-width="1.15"/><line x1="299.5" y1="47" x2="302.4" y2="45.5" stroke="#2b2b2b" stroke-width="1.15"/><text x="305.6" y="45.5" font-size="7.5" fill="#2b2b2b" text-anchor="middle" font-weight="bold" stroke="#2b2b2b" stroke-width="0.15">N</text><text x="305.7" y="38.7" font-size="7.5" fill="#2b2b2b" text-anchor="middle" font-weight="bold" stroke="#2b2b2b" stroke-width="0.15">H</text><line x1="310" y1="45.1" x2="315.9" y2="48.5" stroke="#2b2b2b" stroke-width="1.15"/><polygon points="325.5,43.1 335.11,48.65 335.11,59.75 325.5,65.3 315.89,59.75 315.89,48.65" fill="none" stroke="#2b2b2b" stroke-width="1.15" stroke-linejoin="round"/><line x1="318.19" y1="50.35" x2="318.19" y2="58.05" stroke="#2b2b2b" stroke-width="1.15"/><line x1="325.82" y1="45.94" x2="332.49" y2="49.79" stroke="#2b2b2b" stroke-width="1.15"/><line x1="332.49" y1="58.61" x2="325.82" y2="62.46" stroke="#2b2b2b" stroke-width="1.15"/><line x1="335.11" y1="59.75" x2="344.9" y2="65.3" stroke="#2b2b2b" stroke-width="1.15"/></g><line x1="345.8" y1="65.3" x2="347.7" y2="63.7" stroke="#2b2b2b" stroke-width="1.15"/><line x1="347.7" y1="63.7" x2="349.6" y2="62.1" stroke="#1b8526" stroke-width="1.15"/><g transform="translate(-1,0)"><text x="354.4" y="62.9" font-size="7.5" fill="#1b8526" text-anchor="middle" font-weight="bold" stroke="#1b8526" stroke-width="0.15">O</text><polygon points="374.7,59.9 384.49,65.55 384.49,76.85 374.7,82.5 364.91,76.85 364.91,65.55" fill="none" stroke="#1b8526" stroke-width="1.15" stroke-linejoin="round"/><line x1="367.21" y1="67.25" x2="367.21" y2="75.15" stroke="#1b8526" stroke-width="1.15"/><line x1="375.02" y1="62.74" x2="381.86" y2="66.69" stroke="#1b8526" stroke-width="1.15"/><line x1="381.86" y1="75.71" x2="375.02" y2="79.66" stroke="#1b8526" stroke-width="1.15"/><line x1="357.9" y1="62.6" x2="364.91" y2="65.55" stroke="#1b8526" stroke-width="1.15"/><line x1="374.7" y1="59.9" x2="374.7" y2="53.2" stroke="#1b8526" stroke-width="1.15"/><text x="371.9" y="51.4" font-size="7.5" fill="#1b8526" font-weight="bold" stroke="#1b8526" stroke-width="0.15">Cl</text><polyline points="364.91,76.85 355,82.4 345.1,76.7 335.5,82.1" fill="none" stroke="#1b8526" stroke-width="1.15" stroke-linejoin="round" /><line x1="345.3" y1="79.1" x2="353.4" y2="83.8" stroke="#1b8526" stroke-width="1.15"/><line x1="334.3" y1="82.7" x2="334.3" y2="90.3" stroke="#1b8526" stroke-width="1.15"/><line x1="336.7" y1="82.2" x2="336.7" y2="90.3" stroke="#1b8526" stroke-width="1.15"/><text x="335.1" y="96" font-size="7.5" fill="#1b8526" text-anchor="middle" font-weight="bold" stroke="#1b8526" stroke-width="0.15">O</text></g><line x1="383.49" y1="65.55" x2="392.4" y2="59.4" stroke="#1b8526" stroke-width="1.15"/><g transform="translate(-1,0)"><line x1="393.4" y1="59.4" x2="404" y2="65.2" stroke="#1b8526" stroke-width="1.15"/><line x1="393.4" y1="59.4" x2="397.7" y2="53.2" stroke="#1b8526" stroke-width="1.15"/><text x="399.1" y="52.1" font-size="7.5" fill="#1b8526" text-anchor="middle" font-weight="bold" stroke="#1b8526" stroke-width="0.15">O</text><line x1="402.9" y1="51.4" x2="407.3" y2="53.8" stroke="#1b8526" stroke-width="1.15"/><text x="410" y="57.9" font-size="7.5" fill="#1b8526" text-anchor="middle" font-weight="bold" stroke="#1b8526" stroke-width="0.15">O</text><line x1="404" y1="65.2" x2="407.9" y2="59.1" stroke="#1b8526" stroke-width="1.15"/><line x1="393.4" y1="59.4" x2="390" y2="52.6" stroke="#1b8526" stroke-width="1.15"/><text x="387.9" y="50.9" font-size="7.5" fill="#1b8526" text-anchor="middle" font-weight="bold" stroke="#1b8526" stroke-width="0.15">O</text><line x1="389.8" y1="45.2" x2="394" y2="38.6" stroke="#1b8526" stroke-width="1.15"/><line x1="404" y1="65.2" x2="414.7" y2="62.2" stroke="#1b8526" stroke-width="1.15"/><line x1="414.7" y1="62.2" x2="425.7" y2="65.2" stroke="#1b8526" stroke-width="1.15"/><line x1="425.7" y1="65.2" x2="425.7" y2="76.2" stroke="#1b8526" stroke-width="1.15"/><line x1="425.7" y1="76.2" x2="415" y2="79.2" stroke="#1b8526" stroke-width="1.15"/><line x1="415" y1="79.2" x2="404" y2="76.2" stroke="#1b8526" stroke-width="1.15"/><line x1="404" y1="76.2" x2="404" y2="65.2" stroke="#1b8526" stroke-width="1.15"/><line x1="414.7" y1="62.2" x2="421.1" y2="72.1" stroke="#1b8526" stroke-width="1.15"/><line x1="421.1" y1="72.1" x2="421.1" y2="83.1" stroke="#1b8526" stroke-width="1.15"/><line x1="404" y1="76.2" x2="410.1" y2="86.3" stroke="#1b8526" stroke-width="1.15"/><line x1="410.1" y1="86.3" x2="421.1" y2="83.1" stroke="#1b8526" stroke-width="1.15"/><line x1="421.1" y1="83.1" x2="431.4" y2="85.3" stroke="#1b8526" stroke-width="1.15"/><line x1="431.4" y1="85.3" x2="425.7" y2="76.2" stroke="#1b8526" stroke-width="1.15"/></g><g transform="translate(-1,0)"><line x1="329.1" y1="78.6" x2="335.5" y2="82.1" stroke="#1b8526" stroke-width="1.15"/><text x="316.9" y="78.9" font-size="7.5" fill="#1b8526" font-weight="bold" textLength="11.1" lengthAdjust="spacingAndGlyphs" stroke="#1b8526" stroke-width="0.15">HO</text></g></g>
<text x="630.5" y="230.6" font-size="7.9" fill="#2a2a2a" font-weight="bold" textLength="22.9" lengthAdjust="spacingAndGlyphs" stroke="#2a2a2a" stroke-width="0.2">CBCP</text>
<polyline points="67.42,462.15 67.5,460.76 67.58,459.37 67.67,457.98 67.76,456.59 67.86,455.19 67.95,453.8 68.06,452.4 68.16,451 68.27,449.6 68.38,448.2 68.5,446.8 68.62,445.4 68.74,443.99 68.87,442.58 69,441.18 69.13,439.77 69.27,438.36 69.41,436.95 69.55,435.54 69.69,434.12 69.84,432.71 69.99,431.3 70.14,429.88 70.29,428.47 70.45,427.05 70.61,425.64 70.77,424.22 70.94,422.8 71.1,421.38 71.27,419.97 71.44,418.55 71.61,417.13 71.78,415.71 71.96,414.29 72.14,412.88 72.32,411.46 72.5,410.04 72.68,408.62 72.86,407.2 73.04,405.79 73.23,404.37 73.42,402.95 73.6,401.54 73.79,400.12 73.98,398.71 74.17,397.29 74.37,395.88 74.56,394.47 74.75,393.05 74.94,391.64 75.14,390.23 75.33,388.82 75.53,387.41 75.72,386.01 75.92,384.6 76.11,383.19 76.31,381.79 76.5,380.39 76.7,378.99 76.89,377.59 77.09,376.19 77.28,374.79 77.47,373.4 77.67,372 77.86,370.61 78.05,369.22 78.24,367.83 78.43,366.45 78.62,365.06 78.81,363.68 79,362.3 79.19,360.92 79.38,359.54 79.57,358.17 79.77,356.79 79.97,355.42 80.17,354.05 80.37,352.68 80.59,351.3 80.81,349.93 81.03,348.56 81.27,347.19 81.51,345.82 81.76,344.45 82.03,343.07 82.3,341.7 82.59,340.33 82.89,338.95 83.2,337.58 83.53,336.2 83.87,334.82 84.22,333.44 84.6,332.05 84.99,330.67 85.4,329.28 85.83,327.89 86.27,326.5 86.74,325.1 87.23,323.71 87.74,322.3 88.28,320.9 88.83,319.49 89.42,318.09 90.03,316.7 90.68,315.34 91.37,314.01 92.09,312.73 92.87,311.51 93.69,310.35 94.56,309.28 95.49,308.29 96.48,307.4 97.54,306.62 98.66,305.95 99.86,305.42 101.12,305.04 102.42,304.82 103.75,304.78 105.08,304.94 106.4,305.28 107.7,305.79 108.95,306.43 110.16,307.19 111.31,308.04 112.43,308.97 113.51,309.94 114.55,310.93 115.57,311.94 116.55,312.97 117.5,314 118.43,315.05 119.34,316.11 120.22,317.17 121.07,318.25 121.91,319.35 122.73,320.45 123.54,321.56 124.33,322.68 125.1,323.81 125.86,324.95 126.62,326.1 127.36,327.25 128.1,328.42 128.83,329.59 129.56,330.77 130.29,331.95 131.02,333.15 131.75,334.35 132.48,335.55 133.22,336.76 133.96,337.98 134.7,339.2 135.44,340.43 136.17,341.66 136.89,342.89 137.61,344.13 138.3,345.37 138.98,346.62 139.63,347.87 140.26,349.12 140.87,350.37 141.47,351.63 142.06,352.88 142.64,354.14 143.22,355.4 143.81,356.66 144.42,357.92 145.03,359.18 145.67,360.44 146.34,361.7 147.03,362.96 147.77,364.21 148.54,365.47 149.35,366.72 150.18,367.97 151.03,369.22 151.88,370.46 152.73,371.71 153.56,372.94 154.36,374.18 155.13,375.41 155.86,376.63 156.54,377.86 157.2,379.07 157.83,380.28 158.45,381.49 159.08,382.68 159.72,383.88 160.39,385.06 161.08,386.24 161.8,387.41 162.54,388.57 163.3,389.73 164.09,390.87 164.9,392.01 165.73,393.14 166.57,394.26 167.44,395.37 168.33,396.47 169.24,397.56 170.16,398.63 171.1,399.7 172.05,400.76 173.03,401.8 174.01,402.84 175.01,403.86 176.03,404.86 177.05,405.86 178.09,406.84 179.14,407.81 180.2,408.76 181.27,409.7 182.35,410.63 183.44,411.54 184.53,412.44 185.64,413.33 186.75,414.2 187.87,415.06 189,415.91 190.14,416.74 191.28,417.57 192.44,418.38 193.59,419.18 194.76,419.98 195.93,420.76 197.11,421.53 198.29,422.3 199.48,423.06 200.67,423.8 201.87,424.54 203.08,425.28 204.29,426 205.5,426.72 206.72,427.44 207.95,428.14 209.17,428.85 210.4,429.54 211.64,430.24 212.87,430.93 214.11,431.61 215.36,432.29 216.6,432.97 217.85,433.64 219.1,434.32 220.35,434.99 221.6,435.66 222.86,436.33 224.11,437 225.37,437.66 226.63,438.33 227.88,439 229.14,439.67 230.4,440.34 231.66,441.01 232.91,441.67 234.17,442.34 235.43,443 236.7,443.67 237.96,444.32 239.22,444.97 240.49,445.62 241.76,446.26 243.03,446.89 244.3,447.52 245.58,448.13 246.86,448.74 248.14,449.33 249.43,449.92 250.72,450.49 252.01,451.05 253.31,451.59 254.61,452.13 255.92,452.64 257.23,453.14 258.54,453.63 259.86,454.09 261.19,454.54 262.52,454.97 263.85,455.38 265.2,455.77 266.55,456.14 267.9,456.49 269.26,456.81 270.63,457.11 272.01,457.38 273.39,457.63 274.78,457.86 276.18,458.05 277.58,458.22 278.99,458.36 280.42,458.48 281.84,458.56 283.28,458.61 284.73,458.63 286.19,458.62 287.65,458.57 289.13,458.49 290.61,458.38 292.11,458.23" fill="none" stroke="#2e8b2e" stroke-width="1.5" stroke-linejoin="round" stroke-linecap="round"/>
<line x1="67.1" y1="287.5" x2="67.1" y2="499.2" stroke="#4d4d4d" stroke-width="1.1"/>
<line x1="67.1" y1="495.6" x2="292.3" y2="495.6" stroke="#d24040" stroke-width="1.3"/>
<line x1="64.2" y1="287.6" x2="67.1" y2="287.6" stroke="#4d4d4d" stroke-width="1"/>
<text x="58.6" y="290.5" font-size="7.9" fill="#1a1a1a" text-anchor="end" font-weight="bold" textLength="30.6" lengthAdjust="spacingAndGlyphs" stroke="#1a1a1a" stroke-width="0.2">2,5E+06</text>
<line x1="64.2" y1="308.4" x2="67.1" y2="308.4" stroke="#4d4d4d" stroke-width="1"/>
<text x="58.6" y="311.3" font-size="7.9" fill="#1a1a1a" text-anchor="end" font-weight="bold" textLength="30.6" lengthAdjust="spacingAndGlyphs" stroke="#1a1a1a" stroke-width="0.2">2,3E+06</text>
<line x1="64.2" y1="329.2" x2="67.1" y2="329.2" stroke="#4d4d4d" stroke-width="1"/>
<text x="58.6" y="332.1" font-size="7.9" fill="#1a1a1a" text-anchor="end" font-weight="bold" textLength="30.6" lengthAdjust="spacingAndGlyphs" stroke="#1a1a1a" stroke-width="0.2">2,0E+06</text>
<line x1="64.2" y1="350" x2="67.1" y2="350" stroke="#4d4d4d" stroke-width="1"/>
<text x="58.6" y="352.9" font-size="7.9" fill="#1a1a1a" text-anchor="end" font-weight="bold" textLength="30.6" lengthAdjust="spacingAndGlyphs" stroke="#1a1a1a" stroke-width="0.2">1,8E+06</text>
<line x1="64.2" y1="370.8" x2="67.1" y2="370.8" stroke="#4d4d4d" stroke-width="1"/>
<text x="58.6" y="373.7" font-size="7.9" fill="#1a1a1a" text-anchor="end" font-weight="bold" textLength="30.6" lengthAdjust="spacingAndGlyphs" stroke="#1a1a1a" stroke-width="0.2">1,5E+06</text>
<line x1="64.2" y1="391.6" x2="67.1" y2="391.6" stroke="#4d4d4d" stroke-width="1"/>
<text x="58.6" y="394.5" font-size="7.9" fill="#1a1a1a" text-anchor="end" font-weight="bold" textLength="30.6" lengthAdjust="spacingAndGlyphs" stroke="#1a1a1a" stroke-width="0.2">1,3E+06</text>
<line x1="64.2" y1="412.4" x2="67.1" y2="412.4" stroke="#4d4d4d" stroke-width="1"/>
<text x="58.6" y="415.3" font-size="7.9" fill="#1a1a1a" text-anchor="end" font-weight="bold" textLength="30.6" lengthAdjust="spacingAndGlyphs" stroke="#1a1a1a" stroke-width="0.2">1,0E+06</text>
<line x1="64.2" y1="433.2" x2="67.1" y2="433.2" stroke="#4d4d4d" stroke-width="1"/>
<text x="58.6" y="436.1" font-size="7.9" fill="#1a1a1a" text-anchor="end" font-weight="bold" textLength="30.6" lengthAdjust="spacingAndGlyphs" stroke="#1a1a1a" stroke-width="0.2">7,5E+05</text>
<line x1="64.2" y1="454" x2="67.1" y2="454" stroke="#4d4d4d" stroke-width="1"/>
<text x="58.6" y="456.9" font-size="7.9" fill="#1a1a1a" text-anchor="end" font-weight="bold" textLength="30.6" lengthAdjust="spacingAndGlyphs" stroke="#1a1a1a" stroke-width="0.2">5,0E+05</text>
<line x1="64.2" y1="474.8" x2="67.1" y2="474.8" stroke="#4d4d4d" stroke-width="1"/>
<text x="58.6" y="477.7" font-size="7.9" fill="#1a1a1a" text-anchor="end" font-weight="bold" textLength="30.6" lengthAdjust="spacingAndGlyphs" stroke="#1a1a1a" stroke-width="0.2">2,5E+05</text>
<line x1="64.2" y1="495.6" x2="67.1" y2="495.6" stroke="#4d4d4d" stroke-width="1"/>
<text x="58.6" y="498.5" font-size="7.9" fill="#1a1a1a" text-anchor="end" font-weight="bold" textLength="30.6" lengthAdjust="spacingAndGlyphs" stroke="#1a1a1a" stroke-width="0.2">0,0E+00</text>
<line x1="67.1" y1="495.6" x2="67.1" y2="499.2" stroke="#4d4d4d" stroke-width="1"/>
<text x="67.1" y="513.1" font-size="9.6" fill="#1a1a1a" text-anchor="middle" font-weight="bold" stroke="#1a1a1a" stroke-width="0.2">0</text>
<line x1="99.27" y1="495.6" x2="99.27" y2="499.2" stroke="#4d4d4d" stroke-width="1"/>
<text x="99.27" y="513.1" font-size="9.6" fill="#1a1a1a" text-anchor="middle" font-weight="bold" stroke="#1a1a1a" stroke-width="0.2">5</text>
<line x1="131.44" y1="495.6" x2="131.44" y2="499.2" stroke="#4d4d4d" stroke-width="1"/>
<text x="131.44" y="513.1" font-size="9.6" fill="#1a1a1a" text-anchor="middle" font-weight="bold" stroke="#1a1a1a" stroke-width="0.2">10</text>
<line x1="163.61" y1="495.6" x2="163.61" y2="499.2" stroke="#4d4d4d" stroke-width="1"/>
<text x="163.61" y="513.1" font-size="9.6" fill="#1a1a1a" text-anchor="middle" font-weight="bold" stroke="#1a1a1a" stroke-width="0.2">15</text>
<line x1="195.78" y1="495.6" x2="195.78" y2="499.2" stroke="#4d4d4d" stroke-width="1"/>
<text x="195.78" y="513.1" font-size="9.6" fill="#1a1a1a" text-anchor="middle" font-weight="bold" stroke="#1a1a1a" stroke-width="0.2">20</text>
<line x1="227.95" y1="495.6" x2="227.95" y2="499.2" stroke="#4d4d4d" stroke-width="1"/>
<text x="227.95" y="513.1" font-size="9.6" fill="#1a1a1a" text-anchor="middle" font-weight="bold" stroke="#1a1a1a" stroke-width="0.2">25</text>
<line x1="260.12" y1="495.6" x2="260.12" y2="499.2" stroke="#4d4d4d" stroke-width="1"/>
<text x="260.12" y="513.1" font-size="9.6" fill="#1a1a1a" text-anchor="middle" font-weight="bold" stroke="#1a1a1a" stroke-width="0.2">30</text>
<line x1="292.29" y1="495.6" x2="292.29" y2="499.2" stroke="#4d4d4d" stroke-width="1"/>
<text x="292.29" y="513.1" font-size="9.6" fill="#1a1a1a" text-anchor="middle" font-weight="bold" stroke="#1a1a1a" stroke-width="0.2">35</text>
<text x="153.7" y="523.3" font-size="9.9" fill="#1a1a1a" font-weight="bold" textLength="51.3" lengthAdjust="spacingAndGlyphs" stroke="#1a1a1a" stroke-width="0.2">Time (min)</text>
<text x="23.8" y="399.2" font-size="11" fill="#1a1a1a" text-anchor="middle" font-weight="bold" textLength="74.8" lengthAdjust="spacingAndGlyphs" transform="rotate(-90 23.8 399.2)" stroke="#1a1a1a" stroke-width="0.2">Intensity (RLU)</text>
<line x1="75.7" y1="282.9" x2="97" y2="282.9" stroke="#2e8b2e" stroke-width="1.6"/>
<line x1="75.7" y1="296.3" x2="97" y2="296.3" stroke="#e01010" stroke-width="1.6"/>
<text x="98.6" y="286.9" font-size="10.3" fill="#1a1a1a" textLength="41.1" lengthAdjust="spacingAndGlyphs" stroke="#1a1a1a" stroke-width="0.5">(+) AMP</text>
<text x="98.6" y="300" font-size="10.3" fill="#1a1a1a" textLength="37.9" lengthAdjust="spacingAndGlyphs" stroke="#1a1a1a" stroke-width="0.5">(-) AMP</text>
<rect x="232.8" y="303.6" width="26.1" height="89.2" fill="#33812d"/>
<line x1="226.4" y1="278.5" x2="226.4" y2="392.8" stroke="#4d4d4d" stroke-width="1.1"/>
<line x1="223.7" y1="392.8" x2="304.2" y2="392.8" stroke="#4d4d4d" stroke-width="1.1"/>
<line x1="223.7" y1="278.8" x2="226.4" y2="278.8" stroke="#4d4d4d" stroke-width="1"/>
<text x="217.6" y="281.5" font-size="7.6" fill="#404040" text-anchor="end" textLength="25.1" lengthAdjust="spacingAndGlyphs" >10.000</text>
<line x1="223.7" y1="301.6" x2="226.4" y2="301.6" stroke="#4d4d4d" stroke-width="1"/>
<text x="217.6" y="304.3" font-size="7.6" fill="#404040" text-anchor="end" textLength="21.3" lengthAdjust="spacingAndGlyphs" >8.000</text>
<line x1="223.7" y1="324.4" x2="226.4" y2="324.4" stroke="#4d4d4d" stroke-width="1"/>
<text x="217.6" y="327.1" font-size="7.6" fill="#404040" text-anchor="end" textLength="21.3" lengthAdjust="spacingAndGlyphs" >6.000</text>
<line x1="223.7" y1="347.2" x2="226.4" y2="347.2" stroke="#4d4d4d" stroke-width="1"/>
<text x="217.6" y="349.9" font-size="7.6" fill="#404040" text-anchor="end" textLength="21.3" lengthAdjust="spacingAndGlyphs" >4.000</text>
<line x1="223.7" y1="370" x2="226.4" y2="370" stroke="#4d4d4d" stroke-width="1"/>
<text x="217.6" y="372.7" font-size="7.6" fill="#404040" text-anchor="end" textLength="21.3" lengthAdjust="spacingAndGlyphs" >2.000</text>
<line x1="223.7" y1="392.8" x2="226.4" y2="392.8" stroke="#4d4d4d" stroke-width="1"/>
<text x="217.6" y="395.5" font-size="7.6" fill="#404040" text-anchor="end" textLength="5" lengthAdjust="spacingAndGlyphs" >0</text>
<line x1="245.6" y1="300.1" x2="245.6" y2="307" stroke="#777" stroke-width="0.9"/><line x1="243.3" y1="300.1" x2="247.9" y2="300.1" stroke="#777" stroke-width="0.9"/><line x1="243.3" y1="307" x2="247.9" y2="307" stroke="#777" stroke-width="0.9"/>
<text x="245.4" y="298.4" font-size="11.2" fill="#111" text-anchor="middle" font-weight="bold" textLength="28.6" lengthAdjust="spacingAndGlyphs" stroke="#1a1a1a" stroke-width="0.2">7.856</text>
<text x="284.3" y="385.2" font-size="10.2" fill="#111" text-anchor="middle" font-weight="bold" stroke="#1a1a1a" stroke-width="0.2">1</text>
<text x="223.6" y="404.7" font-size="9.9" fill="#1a1a1a" font-weight="bold" textLength="38.2" lengthAdjust="spacingAndGlyphs" stroke="#1a1a1a" stroke-width="0.2">(+) AMP</text>
<text x="266.3" y="404.7" font-size="9.9" fill="#1a1a1a" font-weight="bold" textLength="35.3" lengthAdjust="spacingAndGlyphs" stroke="#1a1a1a" stroke-width="0.2">(-) AMP</text>
<text x="179.4" y="339.7" font-size="9.2" fill="#1a1a1a" text-anchor="middle" font-weight="bold" textLength="89.4" lengthAdjust="spacingAndGlyphs" transform="rotate(-90 179.4 339.7)">Total light emission</text>
<text x="190.6" y="335.9" font-size="9.2" fill="#1a1a1a" text-anchor="middle" font-weight="bold" textLength="57.8" lengthAdjust="spacingAndGlyphs" transform="rotate(-90 190.6 335.9)">(normalized)</text>
<line x1="381" y1="287.5" x2="381" y2="499" stroke="#4d4d4d" stroke-width="1.1"/>
<polyline points="381.23,481 381.24,479.16 381.24,477.32 381.25,475.48 381.26,473.63 381.27,471.79 381.28,469.95 381.3,468.11 381.31,466.27 381.33,464.43 381.35,462.58 381.37,460.74 381.39,458.9 381.42,457.06 381.44,455.22 381.47,453.38 381.5,451.54 381.53,449.7 381.56,447.86 381.59,446.02 381.63,444.18 381.66,442.34 381.7,440.5 381.74,438.66 381.77,436.82 381.81,434.98 381.86,433.14 381.9,431.3 381.94,429.46 381.98,427.62 382.03,425.78 382.08,423.95 382.12,422.11 382.17,420.27 382.22,418.43 382.27,416.59 382.32,414.75 382.37,412.91 382.42,411.07 382.47,409.23 382.53,407.39 382.58,405.55 382.63,403.71 382.69,401.87 382.74,400.03 382.8,398.19 382.85,396.35 382.91,394.51 382.97,392.67 383.03,390.83 383.08,388.99 383.14,387.15 383.2,385.31 383.26,383.47 383.32,381.63 383.38,379.79 383.44,377.95 383.49,376.11 383.55,374.27 383.61,372.43 383.67,370.58 383.73,368.74 383.79,366.9 383.85,365.06 383.91,363.22 383.97,361.38 384.03,359.53 384.09,357.69 384.14,355.85 384.21,354.01 384.27,352.16 384.34,350.32 384.41,348.49 384.48,346.65 384.56,344.81 384.65,342.98 384.74,341.15 384.84,339.32 384.95,337.5 385.07,335.68 385.2,333.86 385.34,332.04 385.49,330.23 385.65,328.42 385.83,326.6 386.02,324.78 386.23,322.94 386.45,321.1 386.68,319.25 386.94,317.38 387.21,315.49 387.5,313.58 387.8,311.65 388.13,309.7 388.49,307.73 388.9,305.8 389.4,304 390.02,302.39 390.82,301.05 391.8,300.06 393.03,299.48 394.51,299.35 396.17,299.64 397.8,300.3 399.3,301.27 400.7,302.49 402,303.89 403.24,305.42 404.42,307 405.57,308.59 406.69,310.19 407.77,311.8 408.81,313.42 409.82,315.05 410.8,316.68 411.74,318.32 412.64,319.97 413.5,321.63 414.33,323.29 415.12,324.96 415.87,326.63 416.6,328.32 417.29,330 417.96,331.7 418.61,333.39 419.23,335.1 419.84,336.8 420.43,338.51 421.01,340.23 421.58,341.95 422.15,343.67 422.71,345.4 423.27,347.13 423.83,348.86 424.39,350.6 424.95,352.34 425.51,354.08 426.06,355.82 426.62,357.57 427.18,359.32 427.74,361.07 428.3,362.82 428.86,364.57 429.42,366.33 429.98,368.08 430.54,369.84 431.11,371.6 431.68,373.36 432.25,375.12 432.82,376.88 433.4,378.64 433.98,380.4 434.56,382.16 435.15,383.92 435.74,385.68 436.32,387.44 436.9,389.2 437.47,390.96 438.03,392.72 438.58,394.47 439.13,396.23 439.67,397.98 440.21,399.73 440.76,401.49 441.33,403.23 441.91,404.98 442.5,406.72 443.11,408.46 443.74,410.2 444.39,411.93 445.06,413.65 445.75,415.36 446.46,417.06 447.19,418.75 447.95,420.43 448.74,422.09 449.55,423.74 450.38,425.38 451.25,427 452.14,428.6 453.06,430.18 454.02,431.74 455.01,433.29 456.03,434.81 457.08,436.3 458.17,437.78 459.29,439.22 460.45,440.64 461.65,442.04 462.89,443.4 464.17,444.74 465.48,446.04 466.83,447.31 468.22,448.55 469.64,449.75 471.09,450.92 472.57,452.05 474.07,453.14 475.61,454.19 477.16,455.19 478.74,456.16 480.34,457.08 481.96,457.96 483.6,458.79 485.25,459.57 486.91,460.32 488.59,461.04 490.28,461.73 491.97,462.4 493.67,463.06 495.38,463.7 497.09,464.35 498.8,465 500.51,465.66 502.22,466.34 503.93,467.02 505.63,467.72 507.34,468.43 509.05,469.14 510.75,469.86 512.46,470.58 514.17,471.3 515.87,472.03 517.58,472.75 519.29,473.47 521,474.19 522.72,474.9 524.44,475.61 526.15,476.3 527.88,476.99 529.6,477.66 531.33,478.32 533.06,478.96 534.8,479.59 536.54,480.19 538.29,480.78 540.04,481.35 541.79,481.89 543.55,482.41 545.32,482.92 547.09,483.4 548.86,483.86 550.64,484.31 552.42,484.73 554.2,485.14 555.99,485.53 557.78,485.91 559.58,486.26 561.38,486.6 563.18,486.93 564.99,487.24 566.8,487.53 568.61,487.81 570.43,488.08 572.25,488.33 574.07,488.57 575.89,488.79 577.71,489 579.54,489.21 581.37,489.4 583.2,489.57 585.04,489.74 586.87,489.9 588.71,490.05 590.55,490.18 592.39,490.31 594.23,490.44 596.08,490.55 597.92,490.65 599.77,490.75 601.61,490.84 603.46,490.93 605.31,491.01 607.15,491.08 609,491.15 610.85,491.21 612.7,491.27 614.55,491.33 616.4,491.38 618.24,491.43 620.09,491.48 621.94,491.52 623.79,491.57 625.63,491.61 627.48,491.65 629.32,491.69 631.17,491.73 633.01,491.78 634.85,491.82 636.69,491.87 638.53,491.91 640.37,491.96 642.2,492.01 644.03,492.07 645.86,492.13 647.69,492.19 649.52,492.26 651.35,492.33 653.17,492.41 654.99,492.49" fill="none" stroke="#3cb33c" stroke-width="1.5" stroke-linejoin="round" stroke-linecap="round"/>
<line x1="381" y1="495.5" x2="655" y2="495.5" stroke="#d24040" stroke-width="1.3"/>
<line x1="378.2" y1="287.5" x2="381" y2="287.5" stroke="#4d4d4d" stroke-width="1"/>
<text x="371.6" y="290.5" font-size="7.9" fill="#1a1a1a" text-anchor="end" font-weight="bold" textLength="30" lengthAdjust="spacingAndGlyphs" stroke="#1a1a1a" stroke-width="0.2">1,8E+07</text>
<line x1="378.2" y1="310.6" x2="381" y2="310.6" stroke="#4d4d4d" stroke-width="1"/>
<text x="371.6" y="313.6" font-size="7.9" fill="#1a1a1a" text-anchor="end" font-weight="bold" textLength="30" lengthAdjust="spacingAndGlyphs" stroke="#1a1a1a" stroke-width="0.2">1,6E+07</text>
<line x1="378.2" y1="333.7" x2="381" y2="333.7" stroke="#4d4d4d" stroke-width="1"/>
<text x="371.6" y="336.7" font-size="7.9" fill="#1a1a1a" text-anchor="end" font-weight="bold" textLength="30" lengthAdjust="spacingAndGlyphs" stroke="#1a1a1a" stroke-width="0.2">1,4E+07</text>
<line x1="378.2" y1="356.8" x2="381" y2="356.8" stroke="#4d4d4d" stroke-width="1"/>
<text x="371.6" y="359.8" font-size="7.9" fill="#1a1a1a" text-anchor="end" font-weight="bold" textLength="30" lengthAdjust="spacingAndGlyphs" stroke="#1a1a1a" stroke-width="0.2">1,2E+07</text>
<line x1="378.2" y1="379.9" x2="381" y2="379.9" stroke="#4d4d4d" stroke-width="1"/>
<text x="371.6" y="382.9" font-size="7.9" fill="#1a1a1a" text-anchor="end" font-weight="bold" textLength="30" lengthAdjust="spacingAndGlyphs" stroke="#1a1a1a" stroke-width="0.2">1,0E+07</text>
<line x1="378.2" y1="403" x2="381" y2="403" stroke="#4d4d4d" stroke-width="1"/>
<text x="371.6" y="406" font-size="7.9" fill="#1a1a1a" text-anchor="end" font-weight="bold" textLength="30" lengthAdjust="spacingAndGlyphs" stroke="#1a1a1a" stroke-width="0.2">8,0E+06</text>
<line x1="378.2" y1="426.1" x2="381" y2="426.1" stroke="#4d4d4d" stroke-width="1"/>
<text x="371.6" y="429.1" font-size="7.9" fill="#1a1a1a" text-anchor="end" font-weight="bold" textLength="30" lengthAdjust="spacingAndGlyphs" stroke="#1a1a1a" stroke-width="0.2">6,0E+06</text>
<line x1="378.2" y1="449.2" x2="381" y2="449.2" stroke="#4d4d4d" stroke-width="1"/>
<text x="371.6" y="452.2" font-size="7.9" fill="#1a1a1a" text-anchor="end" font-weight="bold" textLength="30" lengthAdjust="spacingAndGlyphs" stroke="#1a1a1a" stroke-width="0.2">4,0E+06</text>
<line x1="378.2" y1="472.3" x2="381" y2="472.3" stroke="#4d4d4d" stroke-width="1"/>
<text x="371.6" y="475.3" font-size="7.9" fill="#1a1a1a" text-anchor="end" font-weight="bold" textLength="30" lengthAdjust="spacingAndGlyphs" stroke="#1a1a1a" stroke-width="0.2">2,0E+06</text>
<line x1="378.2" y1="495.4" x2="381" y2="495.4" stroke="#4d4d4d" stroke-width="1"/>
<text x="371.6" y="498.4" font-size="7.9" fill="#1a1a1a" text-anchor="end" font-weight="bold" textLength="30" lengthAdjust="spacingAndGlyphs" stroke="#1a1a1a" stroke-width="0.2">0,0E+00</text>
<line x1="381" y1="495.5" x2="381" y2="499" stroke="#4d4d4d" stroke-width="1"/>
<text x="381" y="510.8" font-size="8.2" fill="#1a1a1a" text-anchor="middle" font-weight="bold" stroke="#1a1a1a" stroke-width="0.2">0</text>
<line x1="435.8" y1="495.5" x2="435.8" y2="499" stroke="#4d4d4d" stroke-width="1"/>
<text x="435.8" y="510.8" font-size="8.2" fill="#1a1a1a" text-anchor="middle" font-weight="bold" stroke="#1a1a1a" stroke-width="0.2">2</text>
<line x1="490.6" y1="495.5" x2="490.6" y2="499" stroke="#4d4d4d" stroke-width="1"/>
<text x="490.6" y="510.8" font-size="8.2" fill="#1a1a1a" text-anchor="middle" font-weight="bold" stroke="#1a1a1a" stroke-width="0.2">4</text>
<line x1="545.4" y1="495.5" x2="545.4" y2="499" stroke="#4d4d4d" stroke-width="1"/>
<text x="545.4" y="510.8" font-size="8.2" fill="#1a1a1a" text-anchor="middle" font-weight="bold" stroke="#1a1a1a" stroke-width="0.2">6</text>
<line x1="600.2" y1="495.5" x2="600.2" y2="499" stroke="#4d4d4d" stroke-width="1"/>
<text x="600.2" y="510.8" font-size="8.2" fill="#1a1a1a" text-anchor="middle" font-weight="bold" stroke="#1a1a1a" stroke-width="0.2">8</text>
<line x1="655" y1="495.5" x2="655" y2="499" stroke="#4d4d4d" stroke-width="1"/>
<text x="655" y="510.8" font-size="8.2" fill="#1a1a1a" text-anchor="middle" font-weight="bold" stroke="#1a1a1a" stroke-width="0.2">10</text>
<text x="496.6" y="517.4" font-size="8.7" fill="#1a1a1a" font-weight="bold" textLength="42.8" lengthAdjust="spacingAndGlyphs" >Time (hrs)</text>
<text x="336.4" y="391.4" font-size="9.2" fill="#1a1a1a" text-anchor="middle" font-weight="bold" textLength="65.5" lengthAdjust="spacingAndGlyphs" transform="rotate(-90 336.4 391.4)">Intensity (RLU)</text>
<line x1="428" y1="296.4" x2="448.6" y2="296.4" stroke="#3cb33c" stroke-width="1.6"/>
<line x1="428" y1="313" x2="448.6" y2="313" stroke="#e01010" stroke-width="1.6"/>
<text x="451.4" y="299.9" font-size="9.2" fill="#1a1a1a" textLength="44.6" lengthAdjust="spacingAndGlyphs" stroke="#1a1a1a" stroke-width="0.45">(+) Cat-B</text>
<text x="451.4" y="316.4" font-size="9.2" fill="#1a1a1a" textLength="41.7" lengthAdjust="spacingAndGlyphs" stroke="#1a1a1a" stroke-width="0.45">(-) Cat-B</text>
<rect x="500.5" y="302" width="147" height="161" fill="none" stroke="#f6f6f6" stroke-width="0.8"/>
<rect x="566.3" y="330.3" width="28.5" height="111.4" fill="#33812d"/>
<line x1="560.1" y1="441.7" x2="634.4" y2="441.7" stroke="#4d4d4d" stroke-width="1.1"/>
<text x="551" y="444.6" font-size="8.4" fill="#404040" text-anchor="end" textLength="4.9" lengthAdjust="spacingAndGlyphs" >0</text>
<text x="551" y="430.2" font-size="8.4" fill="#404040" text-anchor="end" textLength="14.7" lengthAdjust="spacingAndGlyphs" >500</text>
<text x="551" y="415.8" font-size="8.4" fill="#404040" text-anchor="end" textLength="19.6" lengthAdjust="spacingAndGlyphs" >1000</text>
<text x="551" y="401.4" font-size="8.4" fill="#404040" text-anchor="end" textLength="19.6" lengthAdjust="spacingAndGlyphs" >1500</text>
<text x="551" y="387" font-size="8.4" fill="#404040" text-anchor="end" textLength="19.6" lengthAdjust="spacingAndGlyphs" >2000</text>
<text x="551" y="372.6" font-size="8.4" fill="#404040" text-anchor="end" textLength="19.6" lengthAdjust="spacingAndGlyphs" >2500</text>
<text x="551" y="358.2" font-size="8.4" fill="#404040" text-anchor="end" textLength="19.6" lengthAdjust="spacingAndGlyphs" >3000</text>
<text x="551" y="343.8" font-size="8.4" fill="#404040" text-anchor="end" textLength="19.6" lengthAdjust="spacingAndGlyphs" >3500</text>
<text x="551" y="329.4" font-size="8.4" fill="#404040" text-anchor="end" textLength="19.6" lengthAdjust="spacingAndGlyphs" >4000</text>
<text x="551" y="315" font-size="8.4" fill="#404040" text-anchor="end" textLength="19.6" lengthAdjust="spacingAndGlyphs" >4500</text>
<line x1="580.8" y1="328.2" x2="580.8" y2="332.4" stroke="#111" stroke-width="0.9"/><line x1="578.8" y1="328.2" x2="582.8" y2="328.2" stroke="#111" stroke-width="0.9"/><line x1="578.8" y1="332.4" x2="582.8" y2="332.4" stroke="#111" stroke-width="0.9"/>
<text x="580.3" y="323.2" font-size="10.6" fill="#111" text-anchor="middle" font-weight="bold" textLength="29.4" lengthAdjust="spacingAndGlyphs" stroke="#1a1a1a" stroke-width="0.2">3.866</text>
<text x="613.4" y="434.2" font-size="10" fill="#111" text-anchor="middle" font-weight="bold" stroke="#1a1a1a" stroke-width="0.2">1</text>
<text x="554.4" y="452.7" font-size="9.4" fill="#1a1a1a" textLength="41.2" lengthAdjust="spacingAndGlyphs" stroke="#1a1a1a" stroke-width="0.3">(+) Cat-B</text>
<text x="596.7" y="452.7" font-size="9.4" fill="#1a1a1a" textLength="40" lengthAdjust="spacingAndGlyphs" stroke="#1a1a1a" stroke-width="0.3">(-) Cat-B</text>
<text x="516" y="377.4" font-size="8.8" fill="#1a1a1a" text-anchor="middle" font-weight="bold" textLength="84.8" lengthAdjust="spacingAndGlyphs" transform="rotate(-90 516 377.4)">Total light emission</text>
<text x="526.6" y="376.4" font-size="8.8" fill="#1a1a1a" text-anchor="middle" font-weight="bold" textLength="54.8" lengthAdjust="spacingAndGlyphs" transform="rotate(-90 526.6 376.4)">(normalized)</text>
</svg></body></html>
